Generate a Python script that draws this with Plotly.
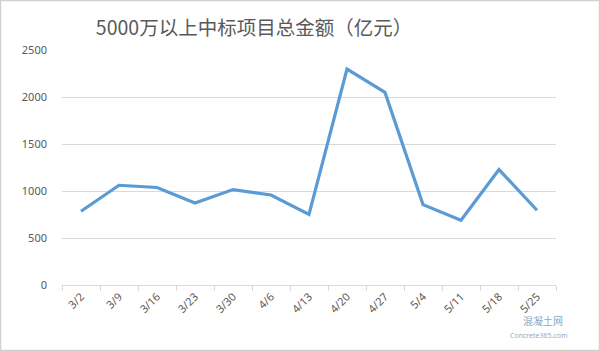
import plotly.graph_objects as go

dates = ["3/2", "3/9", "3/16", "3/23", "3/30", "4/6", "4/13", "4/20", "4/27", "5/4", "5/11", "5/18", "5/25"]
amounts = [784, 1061, 1037, 873, 1015, 958, 752, 2297, 2049, 855, 688, 1228, 795]
y_ticks = [0, 500, 1000, 1500, 2000, 2500]
title_text = "5000万以上中标项目总金额（亿元）"

fig = go.Figure()
fig.add_trace(go.Scatter(
    x=dates, y=amounts, mode="lines",
    line=dict(color="#5b9bd5", width=3.2),
    hoverinfo="skip",
))

L, R, T, B = 62, 44, 50, 66
W, H = 600, 351
pw, ph = W - L - R, H - T - B

def px_to_paper_x(px):
    return (px - L) / pw

def px_to_paper_y(py):
    return (H - B - py) / ph

fig.update_layout(
    width=W, height=H,
    margin=dict(l=L, r=R, t=T, b=B),
    paper_bgcolor="white", plot_bgcolor="white",
    showlegend=False,
    font=dict(family="Noto Sans, Noto Sans CJK SC", color="#595959", size=11),
    title=dict(
        text=title_text, x=254 / W, xanchor="center", y=1 - 28 / H, yanchor="middle",
        font=dict(family="Noto Sans CJK SC", size=19.5, color="#595959"),
    ),
    xaxis=dict(
        type="category", tickson="boundaries", ticks="outside", ticklen=5,
        tickcolor="#d9d9d9", showline=True, linecolor="#d9d9d9", linewidth=1,
        showgrid=False, tickangle=-45, tickfont=dict(size=11, color="#595959"),
        range=[-0.5, len(dates) - 0.5], fixedrange=True,
    ),
    yaxis=dict(
        range=[0, 2500], tickvals=y_ticks, showgrid=True, gridcolor="#d9d9d9",
        gridwidth=1, zeroline=False, showline=False, ticks="",
        ticklabelstandoff=14, tickfont=dict(size=11, color="#595959"),
        fixedrange=True,
    ),
)

# outer border of the picture
fig.add_shape(
    type="rect", xref="paper", yref="paper",
    x0=px_to_paper_x(0.5), x1=px_to_paper_x(599.5),
    y0=px_to_paper_y(350.5), y1=px_to_paper_y(0.5),
    line=dict(color="#d0d0d0", width=1.5), fillcolor="rgba(0,0,0,0)", layer="below",
)

# watermark
fig.add_annotation(
    xref="paper", yref="paper", x=px_to_paper_x(565), y=px_to_paper_y(330),
    text="混凝土网", showarrow=False, font=dict(family="Noto Sans CJK SC", size=10, color="#8fa8c8"),
)
fig.add_annotation(
    xref="paper", yref="paper", x=px_to_paper_x(570), y=px_to_paper_y(342),
    text="Concrete365.com", showarrow=False, font=dict(family="Noto Sans", size=7, color="#9aa8b8"),
)

fig.write_html("out.html")
